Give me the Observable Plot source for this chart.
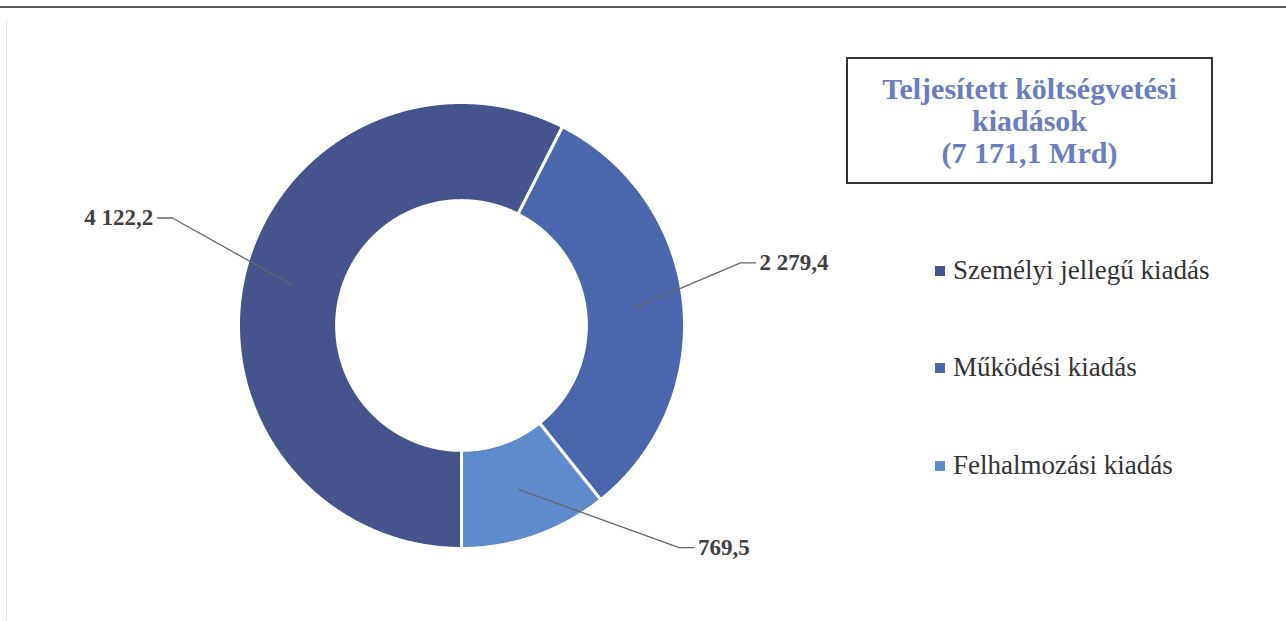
<!DOCTYPE html>
<html>
<head>
<meta charset="utf-8">
<script src="https://cdn.jsdelivr.net/npm/d3@7"></script>
<script src="https://cdn.jsdelivr.net/npm/@observablehq/plot@0.6"></script>
<style>
  html, body { margin: 0; padding: 0; background: #fff; }
  #wrap { position: relative; width: 1286px; height: 621px; overflow: hidden; font-family: "Liberation Serif", "DejaVu Serif", serif; }
  #topRule { position: absolute; left: 0; top: 6px; width: 1286px; height: 2px; background: #5a5a5a; }
  #leftRule { position: absolute; left: 6px; top: 20px; width: 1px; height: 600px; background: #e6e6e6; }
  #chart { position: absolute; left: 0; top: 0; }
  #titleBox { position: absolute; left: 846px; top: 57px; width: 363px; height: 123px; border: 2px solid #333; box-sizing: content-box;
    display: flex; align-items: center; justify-content: center; text-align: center;
    color: #6B7DC0; font-weight: bold; font-size: 30px; line-height: 32px; font-family: "Liberation Serif", serif; }
  .leg { position: absolute; left: 935px; display: flex; align-items: center; font-size: 27px; color: #333; white-space: nowrap; font-family: "Liberation Serif", serif; }
  .leg span.sw { width: 10px; height: 10px; display: inline-block; margin-right: 8px; }
</style>
</head>
<body>
<div id="wrap">
  <div id="topRule"></div>
  <div id="leftRule"></div>
  <div id="chart"></div>
  <div id="titleBox"></div>
  <div id="legend"></div>
</div>
<script>
// ---- data ----
const categories = ["Személyi jellegű kiadás", "Működési kiadás", "Felhalmozási kiadás"];
const values = [4122.2, 2279.4, 769.5];
const valueLabels = ["4 122,2", "2 279,4", "769,5"];
const colors = ["#45548C", "#4A67AE", "#5F8ACB"];
const titleLines = ["Teljesített költségvetési", "kiadások", "(7 171,1 Mrd)"];

// ---- layout (pixels) ----
const W = 1286, H = 621;
const cx = 461, cy = 325, R = 223, innerRatio = 0.56;
// label leader offsets from slice anchor (px), and horizontal tail direction
const labelLayout = [
  {dx: -120, dy: -67, dir: -1},
  {dx: 106, dy: -45, dir: 1},
  {dx: 160, dy: 58, dir: 1}
];

const pie = d3.pie().sort(null).startAngle(Math.PI).endAngle(3 * Math.PI)(values);

// ring polygons in unit coordinates (x right, y up)
const pt = (a, r) => [r * Math.sin(a), r * Math.cos(a)];
const ringPts = [];
pie.forEach((p, i) => {
  const n = Math.max(2, Math.ceil((p.endAngle - p.startAngle) / (Math.PI / 720)));
  for (let k = 0; k <= n; k++) {
    const a = p.startAngle + (p.endAngle - p.startAngle) * k / n;
    const [x, y] = pt(a, 1);
    ringPts.push({cat: categories[i], x, y});
  }
  for (let k = n; k >= 0; k--) {
    const a = p.startAngle + (p.endAngle - p.startAngle) * k / n;
    const [x, y] = pt(a, innerRatio);
    ringPts.push({cat: categories[i], x, y});
  }
});

// leader lines
const u = 1 / R; // px -> unit
const leaderPts = [];
const labelPts = [];
pie.forEach((p, i) => {
  const mid = (p.startAngle + p.endAngle) / 2;
  const [ax, ay] = pt(mid, (1 + innerRatio) / 2);
  const L = labelLayout[i];
  const ex = ax + L.dx * u, ey = ay - L.dy * u;
  const tx = ex + L.dir * 15 * u;
  leaderPts.push({id: i, x: ax, y: ay}, {id: i, x: ex, y: ey}, {id: i, x: tx, y: ey});
  labelPts.push({x: tx + L.dir * 4 * u, y: ey, text: valueLabels[i], anchor: L.dir < 0 ? "end" : "start"});
});

const chart = Plot.plot({
  width: W, height: H,
  margin: 0,
  x: {domain: [-1, 1], range: [cx - R, cx + R], axis: null},
  y: {domain: [-1, 1], range: [cy + R, cy - R], axis: null},
  color: {domain: categories, range: colors},
  style: {background: "transparent", overflow: "visible"},
  marks: [
    Plot.line(ringPts, {x: "x", y: "y", z: "cat", fill: "cat", stroke: "#fff", strokeWidth: 3, curve: "linear-closed"}),
    Plot.line(leaderPts, {x: "x", y: "y", z: "id", stroke: "#666", strokeWidth: 1.3}),
    Plot.text(labelPts.filter(d => d.anchor === "end"), {x: "x", y: "y", text: "text", textAnchor: "end", fontSize: 23, fontWeight: "bold", fill: "#404040", fontFamily: "Liberation Serif, serif"}),
    Plot.text(labelPts.filter(d => d.anchor === "start"), {x: "x", y: "y", text: "text", textAnchor: "start", fontSize: 23, fontWeight: "bold", fill: "#404040", fontFamily: "Liberation Serif, serif"})
  ]
});
document.getElementById("chart").appendChild(chart);

// title box
document.getElementById("titleBox").innerHTML = "<div>" + titleLines.join("<br>") + "</div>";

// legend
const legTops = [255, 352, 450];
const legend = document.getElementById("legend");
categories.forEach((c, i) => {
  const d = document.createElement("div");
  d.className = "leg";
  d.style.top = legTops[i] + "px";
  d.innerHTML = `<span class="sw" style="background:${colors[i]}"></span>${c}`;
  legend.appendChild(d);
});
</script>
</body>
</html>
